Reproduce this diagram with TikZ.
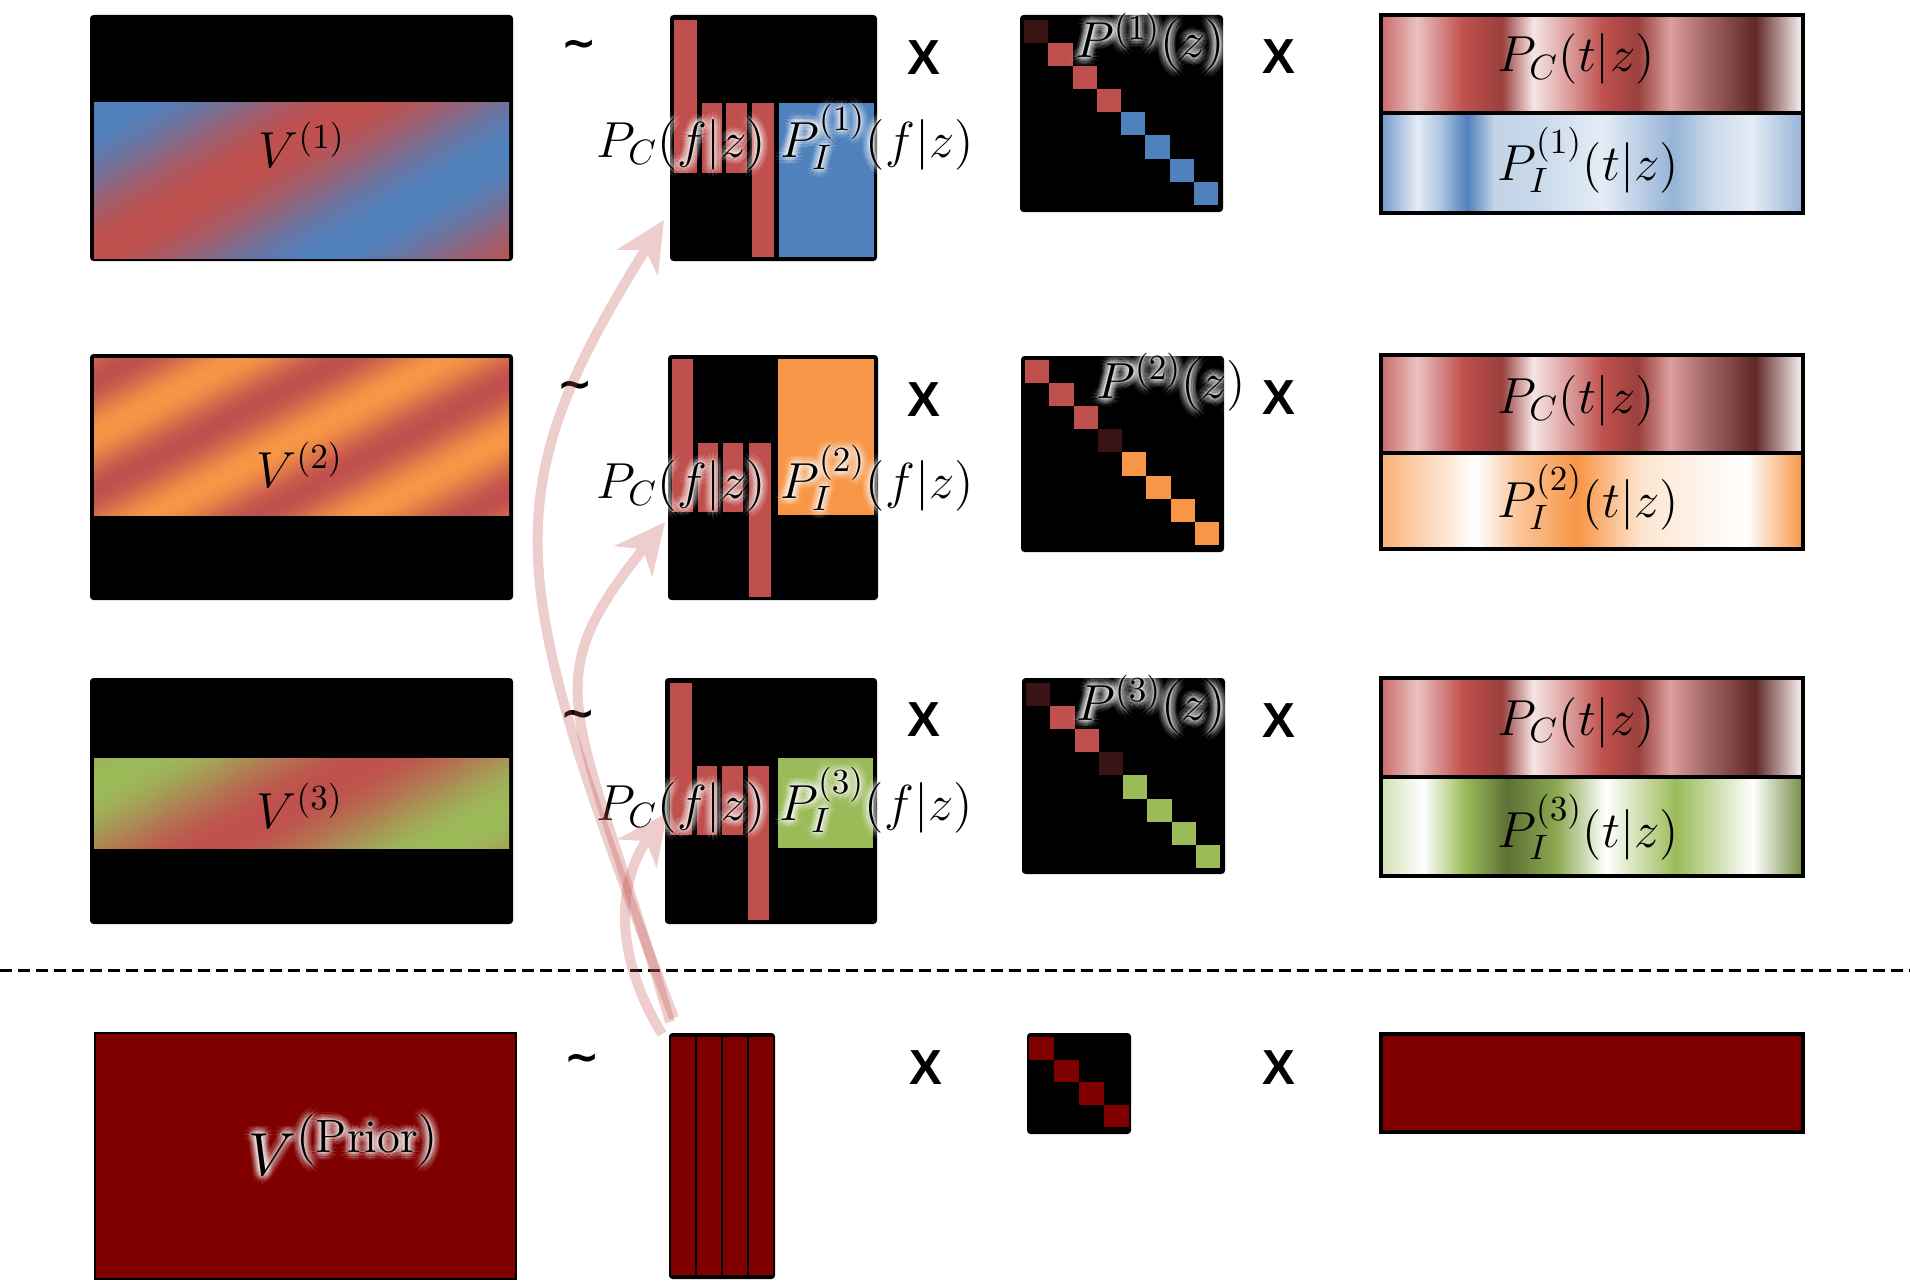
\documentclass[tikz,border=0pt]{standalone}
\usepackage{fontspec}
\newfontfamily\signfont{Liberation Sans}
\newfontfamily\simfont{DejaVu Sans}
\usetikzlibrary{arrows.meta,calc}

\definecolor{cred}{HTML}{C0504D}
\definecolor{cblue}{HTML}{4F81BD}
\definecolor{corange}{HTML}{F79646}
\definecolor{cgreen}{HTML}{9BBB59}
\definecolor{cprior}{HTML}{800000}
\definecolor{cdark}{HTML}{3A1414}
\definecolor{cmuted}{RGB}{160,100,100}

\tikzset{
  lbl/.style={anchor=base, inner sep=0pt, font=\fontsize{14}{17}\selectfont},
  biglbl/.style={font=\fontsize{19}{23}\selectfont},
  opsign/.style={inner sep=0pt, font=\signfont\bfseries\fontsize{14}{17}\selectfont},
  simsign/.style={inner sep=0pt, font=\simfont\bfseries\fontsize{12}{14}\selectfont},
  matbox/.style={fill=black, rounded corners=1pt},
  boxframe/.style={draw=black, line width=1.1pt},
  flowarrow/.style={draw=cred, line width=0.1cm, -{Stealth[length=0.5cm,width=0.48cm,inset=0.15cm]}},
}

% label with a soft white halo
\newcommand{\glowlabel}[4][]{%
  \foreach \gr/\go in {8/0.07,6/0.09,4/0.11,2/0.14} {
    \foreach \ga in {0,30,...,330}
      \node[lbl, #1, text=white, text opacity=\go] at ($(#3)+(\ga:\gr)$) {#4};
  }
  \node[lbl, #1] (#2) at (#3) {#4};
}

% band of diagonal colour waves: corner, corner, origin, angle, half period, colour, colour
\newcommand{\vband}[7]{%
  \begin{scope}
    \clip (#1) rectangle (#2);
    \begin{scope}[shift={(#3)}, rotate=#4]
      \foreach \s in {-520,-517,...,520} {
        \pgfmathsetmacro{\p}{50+50*cos(\s/#5*180)}
        \fill[#6!\p!#7] (-800,\s) rectangle (800,\s+3.6);
      }
    \end{scope}
  \end{scope}
}

\begin{document}
\begin{tikzpicture}[x=0.01cm, y=-0.01cm]
\useasboundingbox (0,0) rectangle (1910,1282);
\fill[white] (0,0) rectangle (1910,1282);

% V matrices
\fill[matbox] (90,15) rectangle (513,261);
\vband{94,103}{509,258}{94,255}{30}{115}{cred}{cblue}
\fill[matbox] (90,354) rectangle (513,600);
\vband{94,358}{509,515}{93,490}{28}{49}{cred}{corange}
\fill[matbox] (90,678) rectangle (513,924);
\vband{94,758}{509,848}{213,845}{29}{110}{cred}{cgreen}
\filldraw[fill=cprior, draw=black, line width=0.5pt] (95,1033) rectangle (516,1279);

\node[lbl] (v1) at (302,167) {$V^{(1)}$};
\node[lbl] (v2) at (300,487) {$V^{(2)}$};
\node[lbl] (v3) at (300,828) {$V^{(3)}$};
\glowlabel[biglbl]{vp}{344,1175}{$V^{(\mathrm{Prior})}$}

% tildes and products
\node[simsign] (t1) at (579,49) {\char"7E};
\node[simsign] (t2) at (575,390) {\char"7E};
\node[simsign] (t3) at (578,719) {\char"7E};
\node[simsign] (t4) at (582,1063) {\char"7E};
\node[opsign] (xa1) at (924,58) {X};
\node[opsign] (xb1) at (1279,57) {X};
\node[opsign] (xa2) at (924,400) {X};
\node[opsign] (xb2) at (1279,398) {X};
\node[opsign] (xa3) at (924,720) {X};
\node[opsign] (xb3) at (1279,721) {X};
\node[opsign] (xa4) at (926,1068) {X};
\node[opsign] (xb4) at (1279,1068) {X};

% P(f|z) matrices
\fill[matbox] (670,15) rectangle (877,261);
\fill[cred] (674,20) rectangle (697,173);
\fill[cred] (702,103) rectangle (722,173);
\fill[cred] (726,103) rectangle (747,173);
\fill[cred] (752,103) rectangle (774,257);
\fill[cblue] (779,103) rectangle (874,257);

\fill[matbox] (668,355) rectangle (878,600);
\fill[cred] (672,359) rectangle (693,512);
\fill[cred] (698,443) rectangle (718,512);
\fill[cred] (723,443) rectangle (743,512);
\fill[cred] (749,443) rectangle (771,597);
\fill[corange] (778,359) rectangle (874,515);

\fill[matbox] (665,678) rectangle (877,924);
\fill[cred] (670,683) rectangle (692,835);
\fill[cred] (697,766) rectangle (717,835);
\fill[cred] (722,766) rectangle (743,835);
\fill[cred] (748,766) rectangle (769,920);
\fill[cgreen] (778,758) rectangle (873,848);

\fill[matbox] (669,1033) rectangle (775,1279);
\foreach \x in {671,697,723,749}
  \fill[cprior] (\x,1037) rectangle ++(24,238);

% P(z) matrices
\fill[matbox] (1020,15) rectangle (1223,212);
\foreach \c [count=\i from 0] in {cdark,cred,cred,cred,cblue,cblue,cblue,cblue}
  \fill[\c] (1024+\i*24.25,20+\i*23.1) rectangle ++(24.25,23.1);
\fill[matbox] (1021,356) rectangle (1224,552);
\foreach \c [count=\i from 0] in {cred,cred,cred,cdark,corange,corange,corange,corange}
  \fill[\c] (1025+\i*24.25,360+\i*23.1) rectangle ++(24.25,23.1);
\fill[matbox] (1022,678) rectangle (1225,874);
\foreach \c [count=\i from 0] in {cdark,cred,cred,cdark,cgreen,cgreen,cgreen,cgreen}
  \fill[\c] (1026+\i*24.25,683+\i*23.1) rectangle ++(24.25,23.1);
\fill[matbox] (1027,1033) rectangle (1131,1134);
\foreach \i in {0,...,3}
  \fill[cprior] (1029+\i*25,1037+\i*22.5) rectangle ++(25,22.5);

% P(t|z) strips
\foreach \y/\yy in {15/113,355/453,678/777}
  \foreach \xa/\ca/\xb/\cb in {1381/cred!85!white/1417/cred!35!white, 1417/cred!35!white/1463/cred,
      1463/cred/1502/cred!80!black, 1502/cred!80!black/1533/cred!15!white,
      1533/cred!15!white/1572/cred!60!white, 1572/cred!60!white/1603/cred,
      1603/cred/1638/cred!80!black, 1638/cred!80!black/1670/cred!55!white,
      1670/cred!55!white/1708/cmuted, 1708/cmuted/1755/cred!50!black,
      1755/cred!50!black/1803/cred!5!white}
    \shade[left color=\ca, right color=\cb] (\xa,\y) rectangle (\xb,\yy);
\foreach \xa/\ca/\xb/\cb in {1381/cblue!80!white/1417/cblue!15!white, 1417/cblue!15!white/1440/cblue!45!white,
    1440/cblue!45!white/1467/cblue, 1467/cblue/1494/cblue!35!white,
    1494/cblue!35!white/1540/cblue!30!white, 1540/cblue!30!white/1603/cblue!15!white,
    1603/cblue!15!white/1673/cblue!60!white, 1673/cblue!60!white/1712/cblue!30!white,
    1712/cblue!30!white/1751/cblue!15!white, 1751/cblue!15!white/1803/cblue!60!white}
  \shade[left color=\ca, right color=\cb] (\xa,113) rectangle (\xb,213);
\foreach \xa/\ca/\xb/\cb in {1381/corange!75!white/1430/corange!35!white, 1430/corange!35!white/1476/white,
    1476/white/1518/corange!55!white, 1518/corange!55!white/1578/corange,
    1578/corange/1641/corange!25!white, 1641/corange!25!white/1746/white,
    1746/white/1803/corange}
  \shade[left color=\ca, right color=\cb] (\xa,453) rectangle (\xb,549);
\foreach \xa/\ca/\xb/\cb in {1381/cgreen!45!white/1423/white, 1423/white/1465/cgreen,
    1465/cgreen/1507/cgreen!60!black, 1507/cgreen!60!black/1556/cgreen!90!black,
    1556/cgreen!90!black/1606/white, 1606/white/1676/cgreen,
    1676/cgreen/1753/white, 1753/white/1803/cgreen!75!black}
  \shade[left color=\ca, right color=\cb] (\xa,777) rectangle (\xb,876);
\foreach \y/\yy/\ym in {15/213/113,355/549/453,678/876/777} {
  \draw[boxframe] (1381,\y) rectangle (1803,\yy);
  \draw[boxframe] (1381,\ym) -- (1803,\ym);
}
\filldraw[boxframe, fill=cprior] (1381,1034) rectangle (1803,1132);

% labels
\glowlabel{pc1}{681,157}{$P_C(f|z)$}
\glowlabel{pi1}{877,157}{$P_I^{(1)}(f|z)$}
\glowlabel{pc2}{681,498}{$P_C(f|z)$}
\glowlabel{pi2}{877,498}{$P_I^{(2)}(f|z)$}
\glowlabel{pc3}{681,820}{$P_C(f|z)$}
\glowlabel{pi3}{876,820}{$P_I^{(3)}(f|z)$}
\glowlabel{pz1}{1150,58}{$P^{(1)}(z)$}
\glowlabel{pz2}{1171,398}{$P^{(2)}(z)$}
\glowlabel{pz3}{1151,720}{$P^{(3)}(z)$}
\node[lbl] (pct1) at (1576,72) {$P_C(t|z)$};
\node[lbl] (pit1) at (1588,180) {$P_I^{(1)}(t|z)$};
\node[lbl] (pct2) at (1576,413) {$P_C(t|z)$};
\node[lbl] (pit2) at (1588,517) {$P_I^{(2)}(t|z)$};
\node[lbl] (pct3) at (1576,735) {$P_C(t|z)$};
\node[lbl] (pit3) at (1588,847) {$P_I^{(3)}(t|z)$};

\draw[line width=0.03cm, dash pattern=on 0.12cm off 0.06cm] (0,970) -- (1910,970);

% prior arrows
\coordinate (src1) at (674,1018);
\coordinate (src2) at (670,1022);
\coordinate (src3) at (662,1034);
\coordinate (tip1) at (664,220);
\coordinate (tip2) at (665,522);
\coordinate (tip3) at (667,813);
\begin{scope}[transparency group, opacity=0.28]
  \draw[flowarrow] (src1) .. controls (507,578) and (488,501) .. (tip1);
\end{scope}
\begin{scope}[transparency group, opacity=0.28]
  \draw[flowarrow] (src2) .. controls (577,704) and (531,688) .. (tip2);
\end{scope}
\begin{scope}[transparency group, opacity=0.28]
  \draw[flowarrow] (src3) .. controls (605,940) and (625,870) .. (tip3);
\end{scope}
\end{tikzpicture}
\end{document}
